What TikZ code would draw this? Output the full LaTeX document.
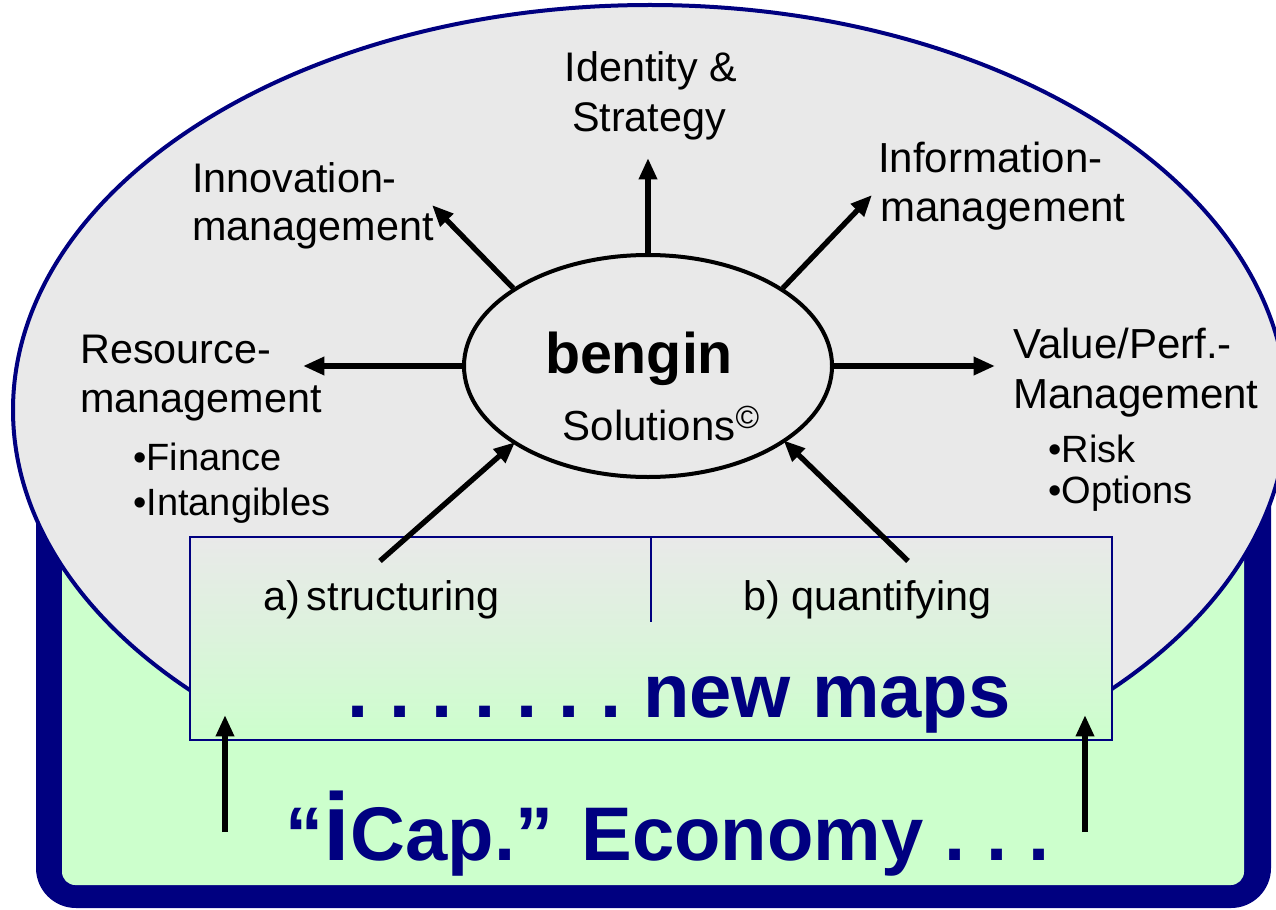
\documentclass[tikz,border=0pt]{standalone}
\usepackage{fontspec}
\setmainfont{Liberation Sans}
\usetikzlibrary{arrows.meta,shapes.geometric}
\definecolor{navy}{RGB}{0,0,128}
\definecolor{ellgray}{RGB}{233,233,233}
\definecolor{lgreen}{RGB}{204,255,204}
\tikzset{
  lbl/.style={inner sep=0pt,font=\fontsize{31}{36}\selectfont},
  sub/.style={inner sep=0pt,font=\fontsize{28.5}{33}\selectfont},
  arr/.style={line width=4pt,-{Triangle[length=16pt,width=13pt]}},
}
\begin{document}
\begin{tikzpicture}[x=0.75pt,y=-0.75pt]
\useasboundingbox (0,0) rectangle (1276,909);
% frame
\fill[navy,rounded corners=30pt] (36,360) rectangle (1271,908);
\fill[lgreen,rounded corners=10pt] (62,390) rectangle (1244,885);
% big ellipse
\filldraw[fill=ellgray,draw=navy,line width=3pt] (650,410) ellipse [x radius=637,y radius=405];
\fill[lgreen] (190,740) rectangle (1112,885);
% gradient box
\shade[top color=ellgray,bottom color=lgreen,middle color=lgreen!45!ellgray] (190,537) rectangle (1112,740);
\draw[navy,line width=1.3pt] (190,537) rectangle (1112,740);
\draw[navy,line width=1.3pt] (651,537) -- (651,622);
% central ellipse
\node[ellipse,draw,line width=3pt,fill=ellgray,minimum width=276pt,minimum height=166.5pt,inner sep=0pt] (c) at (648,366) {};
\node[inner sep=0pt,font=\fontsize{43}{48}\selectfont\bfseries,anchor=base] (bengin) at (639,373) {bengin};
\node[inner sep=0pt,font=\fontsize{31.5}{36}\selectfont,anchor=base] (sol) at (661,440) {Solutions\raisebox{9pt}{\fontsize{24}{26}\selectfont ©}};
% labels
\node[lbl,anchor=base] (id1) at (651,82) {Identity \&};
\node[lbl,anchor=base] (id2) at (649,132) {Strategy};
\node[lbl,anchor=base west] (in1) at (192,193) {Innovation-};
\node[lbl,anchor=base west] (in2) at (192,240) {management};
\node[lbl,anchor=base west,font=\fontsize{31.5}{36}\selectfont] (if1) at (878,173) {Information-};
\node[lbl,anchor=base west,font=\fontsize{31.5}{36}\selectfont] (if2) at (880,222) {management};
\node[lbl,anchor=base west] (rs1) at (80,363) {Resource-};
\node[lbl,anchor=base west] (rs2) at (80,412) {management};
\node[sub,anchor=base west] (fin) at (133,470) {•Finance};
\node[sub,anchor=base west] (int) at (133,515) {•Intangibles};
\node[lbl,anchor=base west,font=\fontsize{31.5}{36}\selectfont] (vp1) at (1013,358) {Value/Perf.-};
\node[lbl,anchor=base west,font=\fontsize{31.5}{36}\selectfont] (vp2) at (1013,408) {Management};
\node[sub,anchor=base west] (risk) at (1048,462) {•Risk};
\node[sub,anchor=base west] (opt) at (1048,503) {•Options};
\node[lbl,anchor=base west] (str) at (263,610) {a)\,structuring};
\node[lbl,anchor=base west] (qua) at (743,610) {b) quantifying};
\node[inner sep=0pt,anchor=base,text=navy,font=\fontsize{57}{64}\selectfont\bfseries] (maps) at (679,717) {.\ .\ .\ .\ .\ .\ .\ new maps};
\node[inner sep=0pt,anchor=base,text=navy,font=\fontsize{57}{64}\selectfont\bfseries] (eco) at (668,860) {“{\fontsize{72}{80}\selectfont i}Cap.” Economy .\ .\ .};
% arrow end coordinates
\coordinate (tId) at (648,158);
\coordinate (tIn) at (432,205);
\coordinate (tIf) at (872,195);
\coordinate (tRs) at (303,366);
\coordinate (tVp) at (995,366);
\coordinate (sA) at (380,561);
\coordinate (sB) at (908,561);
\coordinate (uL0) at (225,832);
\coordinate (uL1) at (225,715);
\coordinate (uR0) at (1085,832);
\coordinate (uR1) at (1085,715);
% arrows
\draw[arr] (c.north) -- (tId);
\draw[arr] (c.150) -- (tIn);
\draw[arr] (c.30) -- (tIf);
\draw[arr] (c.west) -- (tRs);
\draw[arr] (c.east) -- (tVp);
\draw[arr,shorten >=-2pt] (sA) -- (c.210);
\draw[arr,shorten >=-2pt] (sB) -- (c.331);
\draw[arr] (uL0) -- (uL1);
\draw[arr] (uR0) -- (uR1);
\end{tikzpicture}
\end{document}
